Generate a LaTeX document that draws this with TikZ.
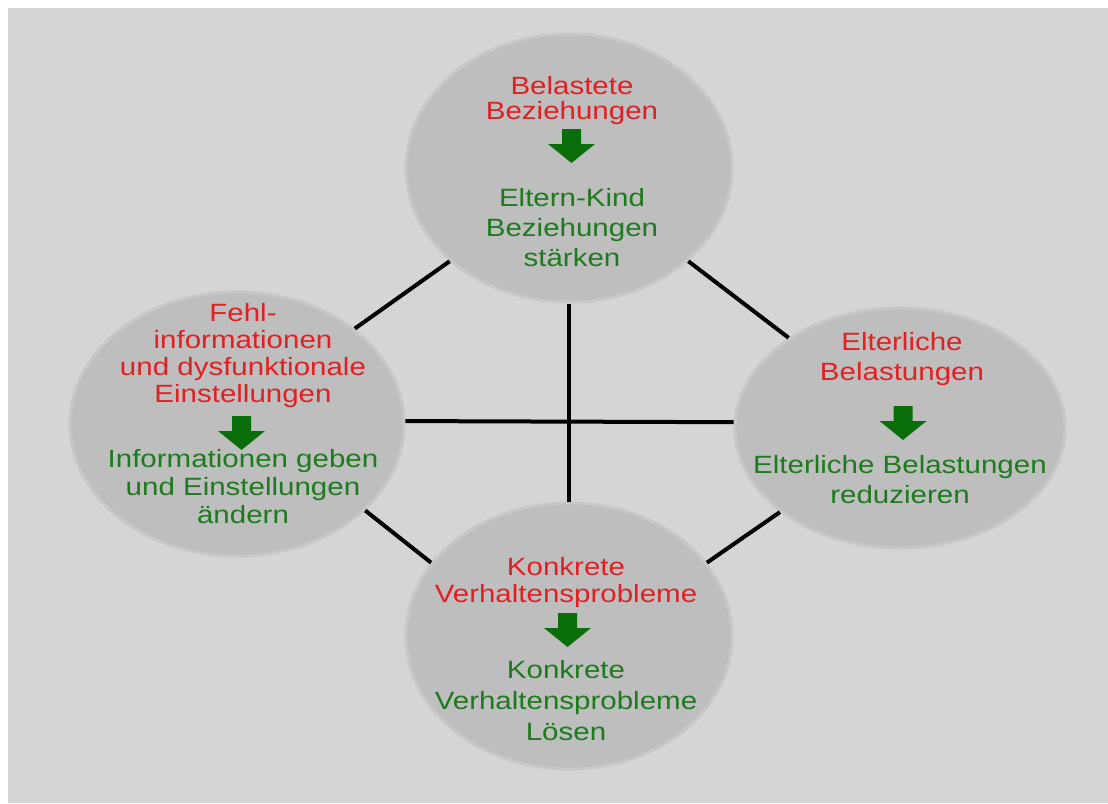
\documentclass[tikz,border=0pt]{standalone}
\usepackage{fontspec}
\setmainfont{Liberation Sans}[FakeStretch=1.18]
\usetikzlibrary{shapes.geometric}
\definecolor{bgc}{RGB}{213,213,213}
\definecolor{ellfill}{RGB}{190,190,190}
\definecolor{elldraw}{RGB}{199,199,199}
\definecolor{redt}{RGB}{226,32,36}
\definecolor{greent}{RGB}{30,122,30}
\definecolor{arrg}{RGB}{10,110,10}
\begin{document}
\begin{tikzpicture}[x=1pt,y=-1pt,
  bubble/.style={ellipse, fill=ellfill, draw=elldraw, line width=3pt, inner sep=0pt},
  link/.style={line width=4pt, black},
  redtxt/.style={text=redt, align=center, anchor=north, inner sep=0pt},
  greentxt/.style={text=greent, align=center, anchor=north, inner sep=0pt},
  blockarrow/.pic={\fill[arrg] (-9.5,0) -- (9.5,0) -- (9.5,15) -- (23.5,15) -- (0,34) -- (-23.5,15) -- (-9.5,15) -- cycle;}
]
\useasboundingbox (0,0) rectangle (1108,803);
\fill[white] (0,0) rectangle (1108,803);
\fill[bgc] (8,8) rectangle (1108,803);

\node[bubble, minimum width=326, minimum height=268] (T) at (569,168) {};
\node[bubble, minimum width=334, minimum height=264] (L) at (237,424) {};
\node[bubble, minimum width=330, minimum height=240] (R) at (900,428) {};
\node[bubble, minimum width=326, minimum height=266] (B) at (569,636) {};

\draw[link] (L.39) -- (T.218);
\draw[link] (T.322) -- (R.141);
\draw[link] (L.-34) -- (B.152);
\draw[link] (B.28) -- (R.215);
\draw[link] (L.1) -- (R.178);
\draw[link] (T.south) -- (B.north);

\node[redtxt, font=\fontsize{25}{25}\selectfont] (Tr) at (572,76) {Belastete\\Beziehungen};
\node[greentxt, font=\fontsize{25}{30}\selectfont] (Tg) at (572,188) {Eltern-Kind\\Beziehungen\\stärken};
\node[redtxt, font=\fontsize{25}{27}\selectfont] (Lr) at (243,303.5) {Fehl-\\informationen\\und dysfunktionale\\Einstellungen};
\node[greentxt, font=\fontsize{25}{28}\selectfont] (Lg) at (243,449) {Informationen geben\\und Einstellungen\\ändern};
\node[redtxt, font=\fontsize{25}{30}\selectfont] (Rr) at (902,332) {Elterliche\\Belastungen};
\node[greentxt, font=\fontsize{25}{30}\selectfont] (Rg) at (900,455) {Elterliche Belastungen\\reduzieren};
\node[redtxt, font=\fontsize{25}{27}\selectfont] (Br) at (566,557) {Konkrete\\Verhaltensprobleme};
\node[greentxt, font=\fontsize{25}{31}\selectfont] (Bg) at (566,660) {Konkrete\\Verhaltensprobleme\\Lösen};

\pic (aT) at (571.5,129) {blockarrow};
\pic (aL) at (241.5,416) {blockarrow};
\pic (aR) at (903,406) {blockarrow};
\pic (aB) at (567.5,613) {blockarrow};
\end{tikzpicture}
\end{document}
